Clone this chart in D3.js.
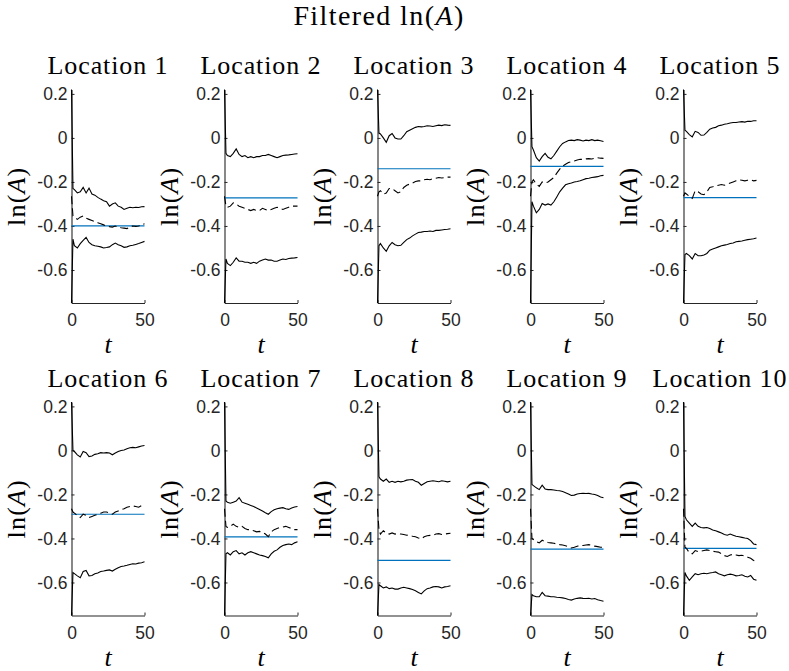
<!DOCTYPE html>
<html>
<head>
<meta charset="utf-8">
<script src="https://cdn.jsdelivr.net/npm/d3@7"></script>
<style>
  body { margin: 0; background: #fff; }
</style>
</head>
<body>
<div id="chart"></div>
<script>
// Step 1: data
// =================================
var tSteps = [0, 1, 2, 4, 6, 8, 10, 12, 14, 16, 18, 20, 22, 24, 26, 28, 30, 32, 34, 36, 38, 40, 42, 44, 46, 48, 50];

var locationNames = ["Location 1", "Location 2", "Location 3", "Location 4", "Location 5",
                     "Location 6", "Location 7", "Location 8", "Location 9", "Location 10"];

// true ln(A) for each location (blue line)
var trueLnA = [-0.40, -0.272, -0.14, -0.129, -0.271, -0.29, -0.393, -0.50, -0.448, -0.445];

// upper band (solid)
var upperBand = [
  [0.22, -0.23, -0.235, -0.25, -0.245, -0.225, -0.25, -0.228, -0.255, -0.26, -0.27, -0.278, -0.285, -0.29, -0.31, -0.30, -0.295, -0.31, -0.315, -0.325, -0.32, -0.315, -0.317, -0.315, -0.316, -0.313, -0.312],
  [0.22, -0.07, -0.08, -0.085, -0.07, -0.05, -0.075, -0.085, -0.08, -0.09, -0.085, -0.09, -0.085, -0.085, -0.08, -0.08, -0.075, -0.08, -0.085, -0.09, -0.085, -0.08, -0.078, -0.077, -0.075, -0.073, -0.072],
  [0.22, 0.022, 0.018, 0.0, -0.02, 0.01, 0.02, 0.0, -0.005, -0.005, 0.01, 0.028, 0.035, 0.042, 0.048, 0.052, 0.05, 0.052, 0.055, 0.054, 0.052, 0.055, 0.058, 0.056, 0.06, 0.058, 0.057],
  [0.22, -0.04, -0.055, -0.09, -0.105, -0.085, -0.07, -0.088, -0.095, -0.08, -0.06, -0.04, -0.025, -0.018, -0.012, -0.01, -0.012, -0.008, -0.01, -0.014, -0.01, -0.012, -0.008, -0.012, -0.01, -0.013, -0.016],
  [0.22, 0.035, 0.03, 0.015, 0.005, 0.03, 0.025, 0.012, 0.013, 0.025, 0.04, 0.045, 0.048, 0.055, 0.058, 0.062, 0.064, 0.068, 0.07, 0.07, 0.072, 0.074, 0.072, 0.076, 0.075, 0.078, 0.078],
  [0.22, 0.0, -0.005, -0.02, -0.03, -0.005, -0.01, -0.028, -0.025, -0.018, -0.015, -0.01, -0.012, -0.01, -0.012, -0.02, -0.012, -0.005, 0.0, 0.002, 0.008, 0.012, 0.014, 0.012, 0.016, 0.02, 0.022],
  [0.22, -0.23, -0.235, -0.24, -0.235, -0.23, -0.215, -0.235, -0.24, -0.245, -0.25, -0.255, -0.262, -0.268, -0.275, -0.283, -0.29, -0.278, -0.27, -0.265, -0.262, -0.26, -0.265, -0.268, -0.262, -0.257, -0.255],
  [0.22, -0.12, -0.13, -0.14, -0.13, -0.145, -0.14, -0.145, -0.14, -0.143, -0.14, -0.135, -0.133, -0.132, -0.14, -0.145, -0.158, -0.15, -0.142, -0.14, -0.138, -0.14, -0.142, -0.138, -0.14, -0.143, -0.14],
  [0.22, -0.155, -0.16, -0.17, -0.178, -0.158, -0.175, -0.178, -0.178, -0.18, -0.182, -0.183, -0.187, -0.192, -0.198, -0.205, -0.203, -0.198, -0.196, -0.195, -0.196, -0.195, -0.198, -0.2, -0.205, -0.212, -0.215],
  [0.22, -0.3, -0.315, -0.33, -0.345, -0.33, -0.345, -0.35, -0.352, -0.35, -0.355, -0.362, -0.365, -0.37, -0.375, -0.382, -0.385, -0.38, -0.385, -0.39, -0.392, -0.395, -0.398, -0.4, -0.41, -0.425, -0.428]
];

// filtered mean (dashed)
var meanPath = [
  [-0.265, -0.355, -0.36, -0.37, -0.36, -0.355, -0.365, -0.37, -0.375, -0.38, -0.385, -0.39, -0.395, -0.4, -0.403, -0.405, -0.4, -0.405, -0.408, -0.41, -0.412, -0.405, -0.4, -0.402, -0.4, -0.395, -0.39],
  [-0.265, -0.31, -0.315, -0.31, -0.295, -0.3, -0.31, -0.315, -0.32, -0.325, -0.33, -0.325, -0.33, -0.33, -0.32, -0.325, -0.33, -0.325, -0.32, -0.315, -0.32, -0.325, -0.32, -0.315, -0.31, -0.31, -0.31],
  [-0.265, -0.245, -0.24, -0.255, -0.25, -0.23, -0.23, -0.24, -0.25, -0.245, -0.225, -0.215, -0.21, -0.205, -0.198, -0.195, -0.195, -0.19, -0.188, -0.19, -0.185, -0.183, -0.18, -0.182, -0.18, -0.178, -0.178],
  [-0.265, -0.2, -0.19, -0.21, -0.22, -0.2, -0.205, -0.2, -0.19, -0.18, -0.16, -0.142, -0.128, -0.12, -0.112, -0.108, -0.105, -0.1, -0.097, -0.098, -0.095, -0.094, -0.096, -0.092, -0.09, -0.092, -0.093],
  [-0.265, -0.25, -0.255, -0.265, -0.275, -0.24, -0.245, -0.255, -0.258, -0.245, -0.225, -0.222, -0.218, -0.215, -0.212, -0.215, -0.21, -0.205, -0.2, -0.195, -0.19, -0.192, -0.195, -0.192, -0.19, -0.195, -0.193],
  [-0.265, -0.28, -0.285, -0.295, -0.305, -0.29, -0.295, -0.305, -0.3, -0.295, -0.29, -0.285, -0.28, -0.28, -0.285, -0.29, -0.28, -0.275, -0.27, -0.265, -0.258, -0.255, -0.252, -0.255, -0.258, -0.25, -0.25],
  [-0.265, -0.345, -0.35, -0.345, -0.335, -0.345, -0.35, -0.345, -0.355, -0.36, -0.36, -0.365, -0.37, -0.368, -0.372, -0.38, -0.392, -0.37, -0.36, -0.355, -0.35, -0.348, -0.345, -0.35, -0.355, -0.36, -0.36],
  [-0.265, -0.36, -0.38, -0.365, -0.375, -0.38, -0.375, -0.38, -0.378, -0.38, -0.382, -0.385, -0.387, -0.39, -0.392, -0.398, -0.402, -0.392, -0.388, -0.386, -0.385, -0.38, -0.378, -0.382, -0.38, -0.378, -0.376],
  [-0.265, -0.4, -0.405, -0.415, -0.42, -0.408, -0.415, -0.418, -0.42, -0.422, -0.425, -0.428, -0.43, -0.433, -0.437, -0.443, -0.44, -0.435, -0.432, -0.432, -0.43, -0.428, -0.432, -0.435, -0.437, -0.44, -0.44],
  [-0.265, -0.44, -0.445, -0.465, -0.47, -0.455, -0.46, -0.458, -0.455, -0.452, -0.455, -0.458, -0.46, -0.462, -0.47, -0.478, -0.482, -0.475, -0.472, -0.475, -0.478, -0.476, -0.48, -0.485, -0.49, -0.5, -0.505]
];

// lower band (solid)
var lowerBand = [
  [-0.75, -0.46, -0.49, -0.5, -0.48, -0.465, -0.452, -0.475, -0.485, -0.49, -0.492, -0.495, -0.5, -0.498, -0.495, -0.485, -0.478, -0.485, -0.49, -0.497, -0.495, -0.49, -0.488, -0.484, -0.48, -0.475, -0.47],
  [-0.75, -0.55, -0.57, -0.58, -0.565, -0.545, -0.56, -0.56, -0.565, -0.565, -0.57, -0.565, -0.57, -0.56, -0.555, -0.55, -0.555, -0.555, -0.56, -0.56, -0.555, -0.55, -0.552, -0.548, -0.546, -0.545, -0.543],
  [-0.75, -0.49, -0.48, -0.5, -0.515, -0.49, -0.475, -0.485, -0.49, -0.488, -0.475, -0.462, -0.455, -0.445, -0.437, -0.43, -0.428, -0.425, -0.425, -0.423, -0.425, -0.42, -0.42, -0.418, -0.416, -0.415, -0.413],
  [-0.75, -0.29, -0.31, -0.34, -0.325, -0.298, -0.305, -0.3, -0.305, -0.29, -0.268, -0.245, -0.228, -0.213, -0.208, -0.205, -0.2, -0.198, -0.195, -0.19, -0.185, -0.183, -0.18, -0.178, -0.176, -0.172, -0.17],
  [-0.75, -0.53, -0.525, -0.535, -0.55, -0.525, -0.535, -0.535, -0.532, -0.525, -0.51, -0.505, -0.5, -0.495, -0.49, -0.487, -0.484, -0.48, -0.477, -0.472, -0.47, -0.468, -0.465, -0.462, -0.46, -0.458, -0.455],
  [-0.75, -0.555, -0.56, -0.57, -0.578, -0.55, -0.545, -0.57, -0.568, -0.56, -0.557, -0.55, -0.548, -0.545, -0.543, -0.548, -0.54, -0.533, -0.527, -0.525, -0.522, -0.518, -0.515, -0.516, -0.512, -0.51, -0.506],
  [-0.75, -0.47, -0.465, -0.475, -0.46, -0.455, -0.47, -0.465, -0.475, -0.465, -0.46, -0.465, -0.47, -0.475, -0.478, -0.482, -0.488, -0.47, -0.458, -0.452, -0.44, -0.432, -0.428, -0.425, -0.428, -0.42, -0.415],
  [-0.75, -0.61, -0.615, -0.625, -0.62, -0.628, -0.625, -0.63, -0.63, -0.625, -0.622, -0.625, -0.628, -0.632, -0.638, -0.645, -0.652, -0.638, -0.628, -0.625, -0.62, -0.618, -0.62, -0.625, -0.62, -0.618, -0.615],
  [-0.75, -0.655, -0.66, -0.665, -0.665, -0.645, -0.66, -0.662, -0.665, -0.665, -0.667, -0.668, -0.67, -0.673, -0.677, -0.68, -0.675, -0.672, -0.67, -0.672, -0.673, -0.672, -0.675, -0.673, -0.678, -0.682, -0.685],
  [-0.75, -0.555, -0.57, -0.59, -0.575, -0.56, -0.565, -0.56, -0.558, -0.56, -0.557, -0.555, -0.552, -0.56, -0.565, -0.57, -0.565, -0.562, -0.565, -0.57, -0.568, -0.565, -0.572, -0.575, -0.568, -0.585, -0.59]
];

var yTicks = [-0.6, -0.4, -0.2, 0, 0.2];
var yTickLabels = ["-0.6", "-0.4", "-0.2", "0", "0.2"];
var xTicks = [0, 50];

// Step 2: layout
// =================================
var svgWidth = 789;
var svgHeight = 671;

var firstLeft = 71.5;
var colStep = 153;
var plotW = 73;
var plotH = 213.5;
var rowTops = [89.5, 402];

var serif = "Liberation Serif, DejaVu Serif, serif";
var sans = "Liberation Sans, Arial, Helvetica, sans-serif";
var axisColor = "#262626";

var svg = d3.select("#chart")
  .append("svg")
  .attr("width", svgWidth)
  .attr("height", svgHeight);

// overall title
var mainTitle = svg.append("text")
  .attr("x", 379)
  .attr("y", 25)
  .attr("text-anchor", "middle")
  .style("font-family", serif)
  .style("font-size", "28px")
  .attr("letter-spacing", 1.4)
  .attr("fill", "#000");
mainTitle.append("tspan").text("Filtered ln(");
mainTitle.append("tspan").style("font-style", "italic").text("A");
mainTitle.append("tspan").text(")");

var xScale = d3.scaleLinear().domain([0, 50]).range([0, plotW]);
var yScale = d3.scaleLinear()
  .domain([d3.min(lowerBand, d => d[0]), d3.max(upperBand, d => d[0])])
  .range([plotH, 0]);

var line = d3.line()
  .x((d, i) => xScale(tSteps[i]))
  .y(d => yScale(d));

// Step 3: one small panel per location
// =================================
locationNames.forEach(function(name, k) {
  var col = k % 5;
  var row = Math.floor(k / 5);
  var g = svg.append("g")
    .attr("transform", `translate(${firstLeft + col * colStep}, ${rowTops[row]})`);

  // y axis
  var yAxis = d3.axisLeft(yScale)
    .tickValues(yTicks)
    .tickFormat((d, i) => yTickLabels[i])
    .tickSizeInner(-3)
    .tickSizeOuter(0)
    .tickPadding(4);
  var yg = g.append("g").call(yAxis);

  // x axis
  var xAxis = d3.axisBottom(xScale)
    .tickValues(xTicks)
    .tickSizeInner(-3)
    .tickSizeOuter(0)
    .tickPadding(11);
  var xg = g.append("g")
    .attr("transform", `translate(0, ${plotH})`)
    .call(xAxis);

  [yg, xg].forEach(function(ax) {
    ax.attr("font-family", sans).attr("font-size", 17.5);
    ax.select(".domain").attr("stroke", axisColor).attr("stroke-width", 1.1);
    ax.selectAll(".tick line").attr("stroke", axisColor);
    ax.selectAll(".tick text").attr("fill", axisColor);
  });

  // true value
  g.append("line")
    .attr("x1", xScale(0))
    .attr("x2", xScale(50))
    .attr("y1", yScale(trueLnA[k]))
    .attr("y2", yScale(trueLnA[k]))
    .attr("stroke", "#0072BD")
    .attr("stroke-width", 1.2);

  g.append("path")
    .attr("d", line(upperBand[k]))
    .attr("fill", "none")
    .attr("stroke", "#000")
    .attr("stroke-width", 1.1);

  g.append("path")
    .attr("d", line(lowerBand[k]))
    .attr("fill", "none")
    .attr("stroke", "#000")
    .attr("stroke-width", 1.1);

  g.append("path")
    .attr("d", line(meanPath[k]))
    .attr("fill", "none")
    .attr("stroke", "#000")
    .attr("stroke-width", 1.1)
    .attr("stroke-dasharray", "8,4");

  // panel title
  g.append("text")
    .attr("x", plotW / 2)
    .attr("y", -15.5)
    .attr("text-anchor", "middle")
    .style("font-family", serif)
    .style("font-size", "26px")
    .attr("letter-spacing", 0.9)
    .text(name);

  // x label
  g.append("text")
    .attr("x", plotW / 2)
    .attr("y", plotH + 50)
    .attr("text-anchor", "middle")
    .style("font-family", serif)
    .style("font-style", "italic")
    .style("font-size", "26px")
    .text("t");

  // y label
  var yl = g.append("text")
    .attr("transform", `translate(-47, ${plotH / 2}) rotate(-90)`)
    .attr("text-anchor", "middle")
    .style("font-family", serif)
    .style("font-size", "26px")
    .attr("letter-spacing", 1.2);
  yl.append("tspan").text("ln(");
  yl.append("tspan").style("font-style", "italic").text("A");
  yl.append("tspan").text(")");
});
</script>
</body>
</html>
